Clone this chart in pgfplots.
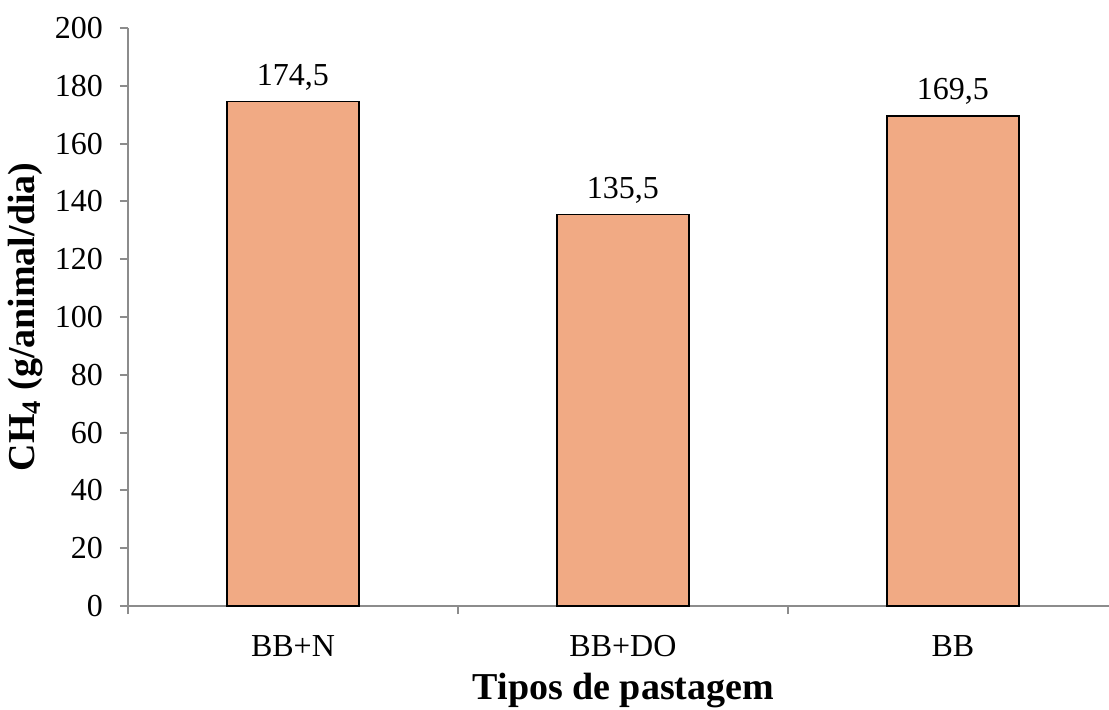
\documentclass[border=0pt]{standalone}
\usepackage{pgfplots}
\pgfplotsset{compat=1.18}
\usepackage{fontspec}
\setmainfont{Liberation Serif}

\definecolor{barfill}{RGB}{241,170,132}
\definecolor{axisgray}{RGB}{140,140,140}

\begin{document}
\begin{tikzpicture}
\begin{axis}[
    at={(0,0)}, anchor=south west,
    scale only axis,
    width=490.5pt, height=289pt,
    xmin=-0.5, xmax=2.473,
    ymin=0, ymax=200,
    axis x line=bottom, axis y line=left,
    axis line style={-, axisgray, line width=1pt},
    ytick={0,20,...,200},
    xtick={0,1,2},
    xticklabels={BB+N, BB+DO, BB},
    minor xtick={-0.5,0.5,1.5},
    tick align=outside,
    major tick length=4pt,
    minor tick length=4pt,
    every tick/.style={axisgray, line width=1pt},
    x tick style={draw=none},
    minor x tick style={draw=axisgray, line width=1pt},
    tick label style={font=\fontsize{16}{19}\selectfont, text=black},
    /pgf/number format/assume math mode=true,
    yticklabel style={xshift=-5pt},
    xticklabel style={yshift=-7pt},
    xlabel={\textbf{Tipos de pastagem}},
    ylabel={\textbf{CH\textsubscript{4} (g/animal/dia)}},
    label style={font=\fontsize{19}{22}\selectfont},
    xlabel style={at={(axis description cs:0.505,0)}, anchor=base, yshift=-46.5pt},
    ylabel style={yshift=-1pt},
    ybar, bar width=66pt,
    nodes near coords,
    nodes near coords style={font=\fontsize{16}{19}\selectfont, text=black, yshift=2pt,
        /pgf/number format/.cd, fixed, precision=1, fixed zerofill, use comma, assume math mode=true},
    clip=false,
]
\addplot[fill=barfill, draw=black, line width=0.75pt] coordinates {
    (0,174.5) (1,135.5) (2,169.5)
};
\end{axis}
\pgfresetboundingbox
\useasboundingbox (-64pt,-51.5pt) rectangle (490.5pt,303pt);
\end{tikzpicture}
\end{document}
